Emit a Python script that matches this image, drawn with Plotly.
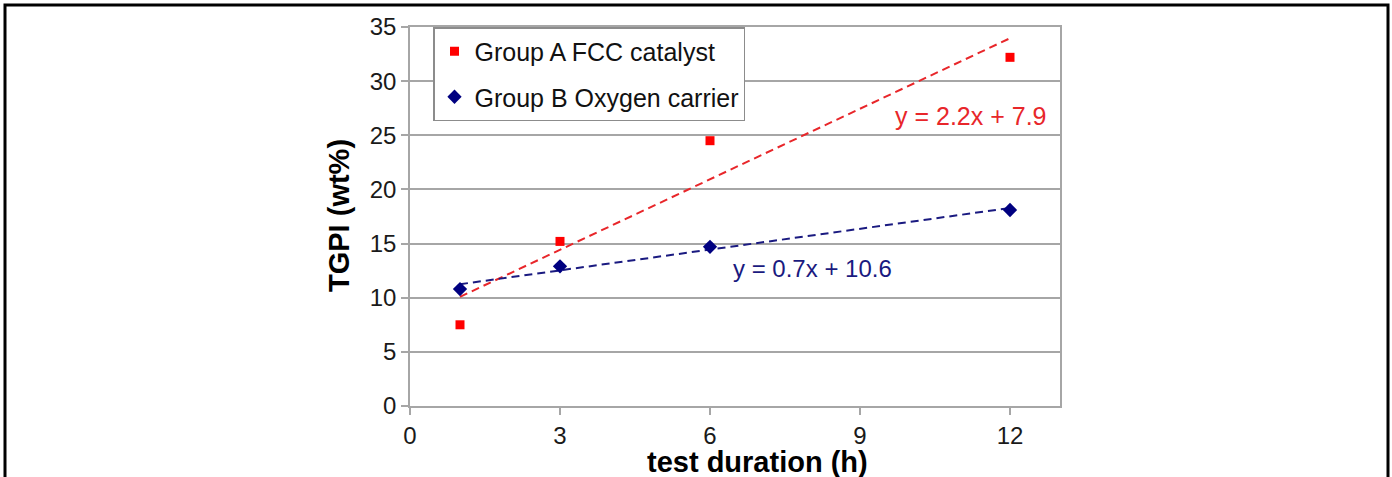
import numpy as np
import plotly.graph_objects as go

hours = [1, 3, 6, 12]
group_a = [7.5, 15.2, 24.5, 32.2]
group_b = [10.8, 12.9, 14.7, 18.1]
name_a = "Group A FCC catalyst"
name_b = "Group B Oxygen carrier"
eq_a = "y = 2.2x + 7.9"
eq_b = "y = 0.7x + 10.6"
x_title = "<b>test duration (h)</b>"
y_title = "<b>TGPI (wt%)</b>"
x_ticks = [0, 3, 6, 9, 12]
y_ticks = [0, 5, 10, 15, 20, 25, 30, 35]

RED = "#ff0000"
NAVY = "#000080"
EQ_RED = "#e8262a"
EQ_NAVY = "#1a1a80"
FONT = "Liberation Sans, Arial, sans-serif"

W, H = 1392, 477
L, R, T, B = 410, W - 1060, 27, H - 406

fig = go.Figure()

# trendlines (least squares, from data)
ka, ba = np.polyfit(hours, group_a, 1)
kb, bb = np.polyfit(hours, group_b, 1)
xs = np.array([hours[0], hours[-1]])
fig.add_trace(go.Scatter(x=xs, y=ka * xs + ba, mode="lines", showlegend=False,
                         line=dict(color=EQ_RED, width=2, dash="8px,5px"), hoverinfo="skip"))
fig.add_trace(go.Scatter(x=xs, y=kb * xs + bb, mode="lines", showlegend=False,
                         line=dict(color=EQ_NAVY, width=2, dash="8px,5px"), hoverinfo="skip"))

fig.add_trace(go.Scatter(x=hours, y=group_a, mode="markers", name=name_a, legendgroup="a",
                         marker=dict(symbol="square", size=9, color=RED)))
fig.add_trace(go.Scatter(x=hours, y=group_b, mode="markers", name=name_b, legendgroup="b",
                         marker=dict(symbol="diamond", size=11, color=NAVY)))

# trendline equations
fig.add_annotation(x=12.78, y=26.8, text=eq_a, xanchor="right", yanchor="middle",
                   showarrow=False, font=dict(family=FONT, size=25, color=EQ_RED))
fig.add_annotation(x=6.42, y=12.7, text=eq_b, xanchor="left", yanchor="middle",
                   showarrow=False, font=dict(family=FONT, size=24, color=EQ_NAVY))

pw, ph = W - L - R, H - T - B
def px_x(p):
    return (p - L) / pw
def px_y(p):
    return (H - B - p) / ph

# axis titles
fig.add_annotation(xref="paper", yref="paper", x=px_x(757), y=px_y(462), text=x_title,
                   xanchor="center", yanchor="middle", showarrow=False,
                   font=dict(family=FONT, size=29, color="#000000"))
fig.add_annotation(xref="paper", yref="paper", x=px_x(339), y=px_y(216), text=y_title,
                   textangle=-90, xanchor="center", yanchor="middle", showarrow=False,
                   font=dict(family=FONT, size=29, color="#000000"))

# outer black frame
fig.add_shape(type="rect", xref="paper", yref="paper",
              x0=px_x(5), x1=px_x(1388), y0=px_y(495), y1=px_y(5),
              line=dict(color="black", width=3), fillcolor="rgba(0,0,0,0)", layer="above")

axis_common = dict(gridcolor="#a6a6a6", gridwidth=1.5, automargin=False,
                   showline=True, linecolor="#a6a6a6", linewidth=1.5, mirror=True,
                   ticks="outside", ticklen=7, tickcolor="#a6a6a6", tickwidth=1.5,
                   zeroline=False, tickfont=dict(family=FONT, size=24, color="#1a1a1a"))

fig.update_layout(
    width=W, height=H,
    margin=dict(l=L, r=R, t=T, b=B),
    plot_bgcolor="white", paper_bgcolor="white",
    font=dict(family=FONT, color="#111111"),
    xaxis=dict(range=[0, 13], tickvals=x_ticks, showgrid=False, **axis_common),
    yaxis=dict(range=[0, 35], tickvals=y_ticks, showgrid=True, **axis_common),
    legend=dict(x=px_x(433), y=px_y(27), xanchor="left", yanchor="top",
                bgcolor="white", bordercolor="#8c8c8c", borderwidth=1.5,
                font=dict(family=FONT, size=25, color="#111111"),
                tracegroupgap=10, itemwidth=30),
    showlegend=True,
)

fig.write_html("out.html", config={"displayModeBar": False},
               post_script="document.body.style.margin='0';")
